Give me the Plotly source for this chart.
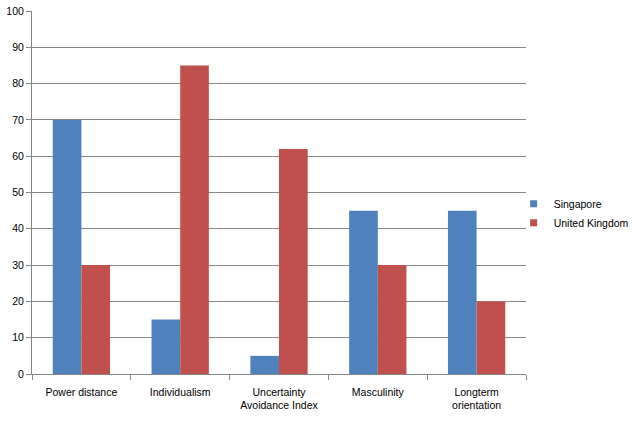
import plotly.graph_objects as go

categories = ["Power distance", "Individualism", "Uncertainty<br>Avoidance Index", "Masculinity", "Longterm<br>orientation"]
singapore = [70, 15, 5, 45, 45]
united_kingdom = [30, 85, 62, 30, 20]
series_names = ["Singapore", "United Kingdom"]
series_colors = ["#4F81BD", "#C0504D"]
y_ticks = [0, 10, 20, 30, 40, 50, 60, 70, 80, 90, 100]

fig = go.Figure()
for name, vals, col in zip(series_names, [singapore, united_kingdom], series_colors):
    fig.add_bar(x=categories, y=vals, name=name, marker_color=col,
                marker_line_width=0, showlegend=False)
# legend entries with small square keys
for name, col in zip(series_names, series_colors):
    fig.add_scatter(x=[None], y=[None], mode="markers", name=name,
                    marker=dict(symbol="square", size=7, color=col))

fig.update_layout(
    width=632, height=421,
    margin=dict(l=32, r=106, t=11, b=47, autoexpand=False),
    paper_bgcolor="white", plot_bgcolor="white",
    barmode="group", bargap=0.42, bargroupgap=0,
    font=dict(family="Liberation Sans, Arial, sans-serif", size=10.5, color="#000000"),
    legend=dict(x=0.975, y=0.443, xanchor="left", yanchor="middle",
                font=dict(size=10.5), tracegroupgap=0, itemwidth=30,
                bgcolor="rgba(0,0,0,0)"),
    showlegend=True,
)
fig.update_xaxes(
    showgrid=False, showline=True, linecolor="#868686", linewidth=1,
    ticks="outside", tickson="boundaries", ticklen=5, tickcolor="#868686",
    tickfont=dict(size=10.5), tickangle=0, automargin=False, ticklabelstandoff=8,
)
fig.update_yaxes(
    range=[0, 100], tickvals=y_ticks, showgrid=True, gridcolor="#868686", gridwidth=1,
    showline=True, linecolor="#868686", linewidth=1, ticks="outside", ticklen=5,
    tickcolor="#868686", zeroline=False, tickfont=dict(size=10.5), automargin=False,
)

fig.write_html("out.html", config={"displayModeBar": False},
               post_script="document.body.style.margin='0';")
